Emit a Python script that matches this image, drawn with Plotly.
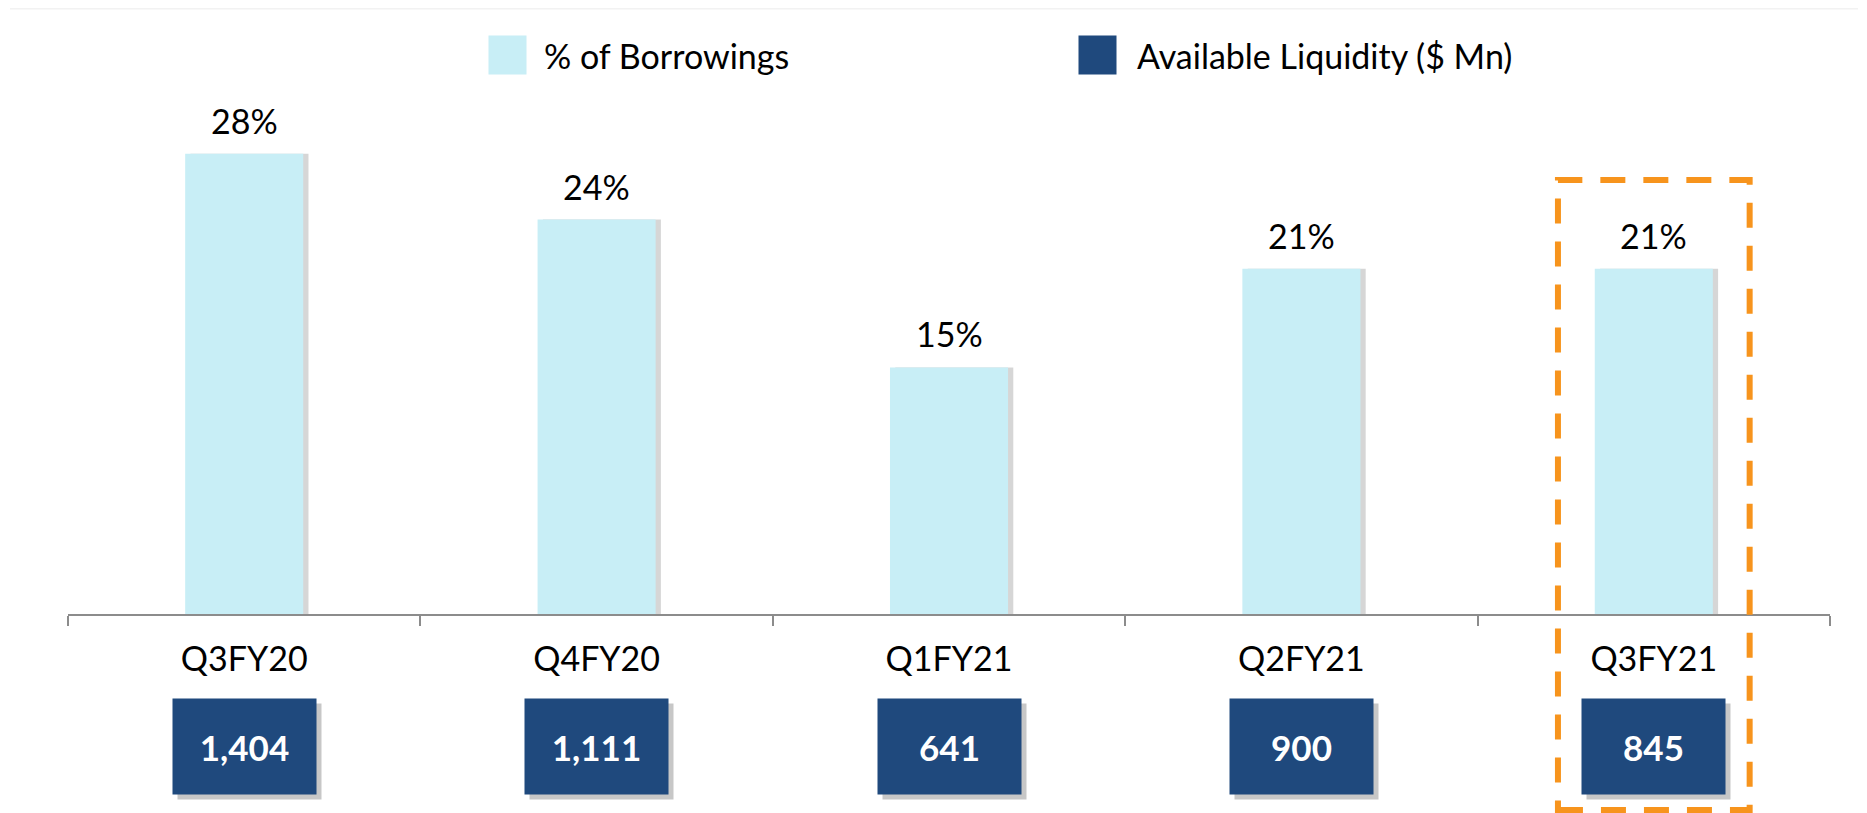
import plotly.graph_objects as go

# data
quarters = ['Q3FY20', 'Q4FY20', 'Q1FY21', 'Q2FY21', 'Q3FY21']
pct_borrowings = [28, 24, 15, 21, 21]
liquidity = [1404, 1111, 641, 900, 845]

light = '#C8EEF6'
dark = '#1F497D'
orange = '#F7941D'
font = 'Lato'

# the page body adds an 8px margin, so the figure is shrunk by that much
OFF = 8
W, H = 1867 - OFF, 813 - OFF
ml, mr, mt, mb = 68 - OFF, 37, 88 - OFF, 199
pw, ph = W - ml - mr, H - mt - mb


# screen pixel -> paper helpers (only used for decorations)
def px_x(p):
    return (p - OFF - ml) / pw


def px_y(p):
    return (H - mb - (p - OFF)) / ph


bar_w = 0.335

fig = go.Figure()

# soft shadow behind the bars
fig.add_trace(go.Bar(
    x=quarters, y=pct_borrowings,
    width=bar_w, offset=-bar_w / 2 + 0.015,
    marker=dict(color='rgba(0,0,0,0.16)', line_width=0),
    hoverinfo='skip', showlegend=False,
))
fig.add_trace(go.Bar(
    x=quarters, y=pct_borrowings,
    width=bar_w, offset=-bar_w / 2,
    marker=dict(color=light, line_width=0),
    name='% of Borrowings', showlegend=False,
))

annotations = []

# % labels above bars
for q, v in zip(quarters, pct_borrowings):
    annotations.append(dict(
        x=q, y=v, xref='x', yref='y', text=f'{v}%', showarrow=False,
        yanchor='bottom', yshift=11,
        font=dict(family=font, size=34, color='black'),
    ))

# liquidity boxes under the axis
for q, v in zip(quarters, liquidity):
    annotations.append(dict(
        x=q, y=px_y(746), xref='x', yref='paper', text='', showarrow=False,
        width=143, height=95, borderpad=0, bgcolor='rgba(0,0,0,0.22)',
        xanchor='center', yanchor='middle', xshift=5, yshift=-5,
    ))
    annotations.append(dict(
        x=q, y=px_y(746), xref='x', yref='paper', text=f'<b>{v:,}</b>',
        showarrow=False, width=143, height=95, borderpad=0, bgcolor=dark,
        xanchor='center', yanchor='middle', valign='middle',
        font=dict(family=font, size=35, color='white'),
    ))

# legend drawn by hand (larger swatches than plotly allows)
legend_items = [('% of Borrowings', light, 488, 542),
                ('Available Liquidity ($ Mn)', dark, 1078, 1135)]
for label, col, sx, tx in legend_items:
    annotations.append(dict(
        x=px_x(sx), y=px_y(55), xref='paper', yref='paper', text='',
        showarrow=False, width=37, height=38, borderpad=0, bgcolor=col,
        xanchor='left', yanchor='middle',
    ))
    annotations.append(dict(
        x=px_x(tx), y=px_y(55), xref='paper', yref='paper', text=label,
        showarrow=False, xanchor='left', yanchor='middle',
        font=dict(family=font, size=34, color='black'),
    ))

last = len(quarters) - 1
shapes = [
    # highlight around the latest quarter
    dict(type='rect', xref='x', yref='paper',
         x0=last - 0.272, x1=last + 0.272,
         y0=px_y(810), y1=px_y(180),
         line=dict(color=orange, width=6, dash='25px,18px')),
    # panel edge shadow on the right
    dict(type='rect', xref='paper', yref='paper',
         x0=px_x(1859), x1=px_x(1867), y0=px_y(813), y1=px_y(10),
         line_width=0, fillcolor='#b0b0b0', layer='above'),
    dict(type='line', xref='paper', yref='paper',
         x0=px_x(5), x1=px_x(5), y0=px_y(813), y1=px_y(12),
         line=dict(color='#f0f0f0', width=2), layer='below'),
    dict(type='line', xref='paper', yref='paper',
         x0=px_x(10), x1=px_x(1858), y0=px_y(8), y1=px_y(8),
         line=dict(color='#f2f2f2', width=3), layer='below'),
]

fig.update_layout(
    width=W, height=H,
    margin=dict(l=ml, r=mr, t=mt, b=mb, autoexpand=False),
    paper_bgcolor='white', plot_bgcolor='white',
    barmode='overlay',
    showlegend=False,
    annotations=annotations,
    shapes=shapes,
    font=dict(family=font, color='black'),
)
fig.update_xaxes(
    type='category',
    range=[-0.5, len(quarters) - 0.5],
    showline=True, linecolor='#8c8c8c', linewidth=2,
    ticks='outside', tickson='boundaries', ticklen=10, tickwidth=2,
    tickcolor='#8c8c8c', ticklabelstandoff=14,
    tickfont=dict(family=font, size=34, color='black'),
    showgrid=False, zeroline=False,
)
fig.update_yaxes(range=[0, 32], visible=False, showgrid=False)

fig.write_html('out.html')
